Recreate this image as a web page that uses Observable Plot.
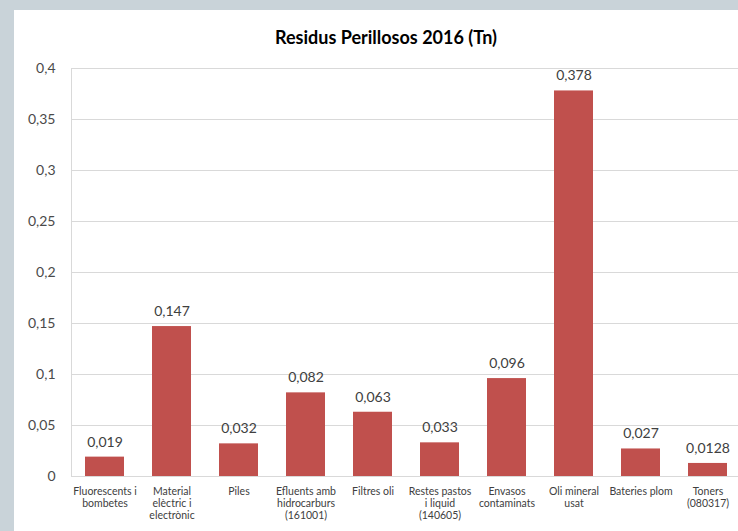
<!DOCTYPE html>
<html><head><meta charset="utf-8">
<script src="https://cdn.jsdelivr.net/npm/d3@7"></script>
<script src="https://cdn.jsdelivr.net/npm/@observablehq/plot@0.6"></script>
<style>
html,body{margin:0;padding:0;background:#c9d3d9;width:738px;height:531px;overflow:hidden;font-family:Lato,sans-serif}
#card{position:absolute;left:14px;top:10px;width:724px;height:521px;background:#fff;overflow:hidden}
#title{position:absolute;left:0;top:0;width:744px;height:45px;text-align:center;font-weight:bold;font-size:18px;line-height:20px;box-sizing:border-box;color:#000}
#title span{display:block;margin-top:17px}
#chart{position:absolute;left:0;top:45px}
</style>
</head><body>
<div id="card"><div id="title"><span>Residus Perillosos 2016 (Tn)</span></div><div id="chart"></div></div>
<script>
const categories = ["Fluorescents i bombetes","Material elèctric i electrònic","Piles","Efluents amb hidrocarburs (161001)","Filtres oli","Restes pastos i liquid (140605)","Envasos contaminats","Oli mineral usat","Bateries plom","Toners (080317)"];
const tickLabels = ["Fluorescents i\nbombetes","Material\nelèctric i\nelectrònic","Piles","Efluents amb\nhidrocarburs\n(161001)","Filtres oli","Restes pastos\ni liquid\n(140605)","Envasos\ncontaminats","Oli mineral\nusat","Bateries plom","Toners\n(080317)"];
const values = [0.019, 0.147, 0.032, 0.082, 0.063, 0.033, 0.096, 0.378, 0.027, 0.0128];
const valueLabels = ["0,019","0,147","0,032","0,082","0,063","0,033","0,096","0,378","0,027","0,0128"];
const yTicks = [0, 0.05, 0.1, 0.15, 0.2, 0.25, 0.3, 0.35, 0.4];
const yTickLabels = ["0","0,05","0,1","0,15","0,2","0,25","0,3","0,35","0,4"];

const data = categories.map((c, i) => ({cat: c, value: values[i], label: valueLabels[i]}));
const labelOf = new Map(categories.map((c, i) => [c, tickLabels[i]]));
const yLabelOf = new Map(yTicks.map((t, i) => [t, yTickLabels[i]]));

const chart = Plot.plot({
  width: 724, height: 476,
  marginLeft: 57, marginRight: 0, marginTop: 13, marginBottom: 55,
  style: {fontFamily: "Lato, sans-serif", background: "transparent"},
  x: {domain: categories, range: [57, 727], paddingInner: 0.42, paddingOuter: 0.2},
  y: {domain: [0, 0.4]},
  marks: [
    Plot.gridY(yTicks, {stroke: "#d9d9d9", strokeOpacity: 1}),
    Plot.frame({anchor: "left", stroke: "#d9d9d9"}),
    Plot.barY(data, {x: "cat", y: "value", fill: "#c0504d"}),
    Plot.text(data, {x: "cat", y: "value", text: "label", dy: -15, fontSize: 14, fill: "#404040"}),
    Plot.axisY(yTicks, {tickSize: 0, tickPadding: 16, tickFormat: d => yLabelOf.get(d), fontSize: 14, color: "#4a4a4a", label: null}),
    Plot.axisX({tickSize: 0, tickPadding: 10, tickFormat: d => labelOf.get(d), fontSize: 10.5, lineHeight: 1.15, color: "#404040", label: null})
  ]
});
document.getElementById("chart").appendChild(chart);
</script>
</body></html>
